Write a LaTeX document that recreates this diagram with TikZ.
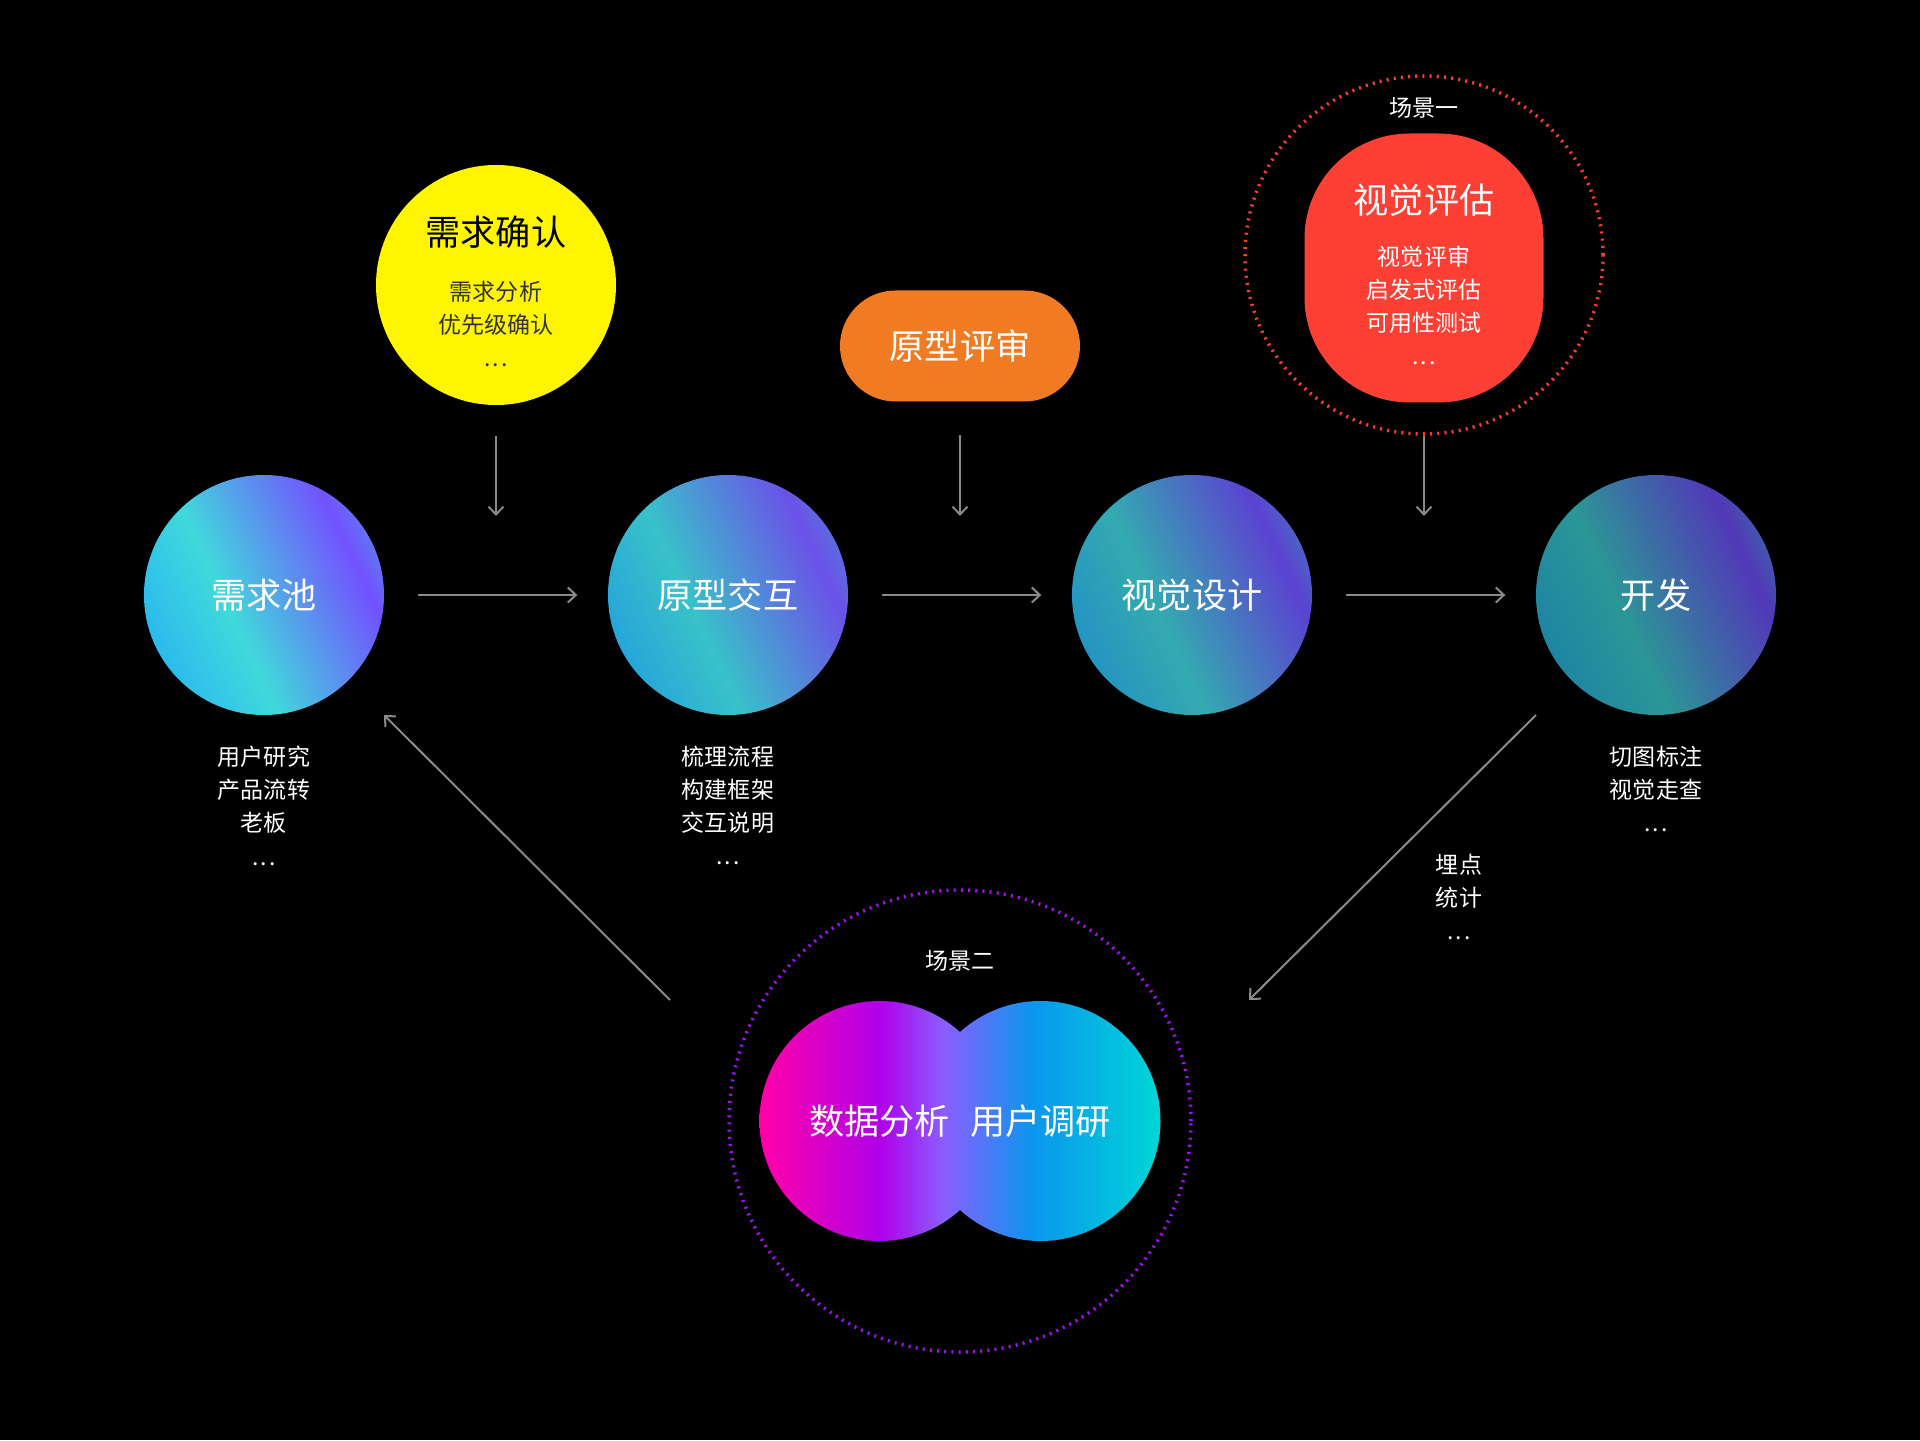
\documentclass[tikz,border=0pt]{standalone}
\usepackage{fontspec}
\setmainfont{Noto Sans CJK SC}
\usetikzlibrary{arrows.meta}
\definecolor{lineGray}{HTML}{8A8A8A}
\definecolor{confirmYellow}{HTML}{FFF500}
\definecolor{reviewOrange}{HTML}{F07B22}
\definecolor{evalRed}{HTML}{FE4034}
\definecolor{sceneRed}{HTML}{FF3B30}
\definecolor{scenePurple}{HTML}{A010F0}
\newcommand{\moredots}{.\kern0.02cm.\kern0.02cm.}
%% Shadings
\pgfdeclarehorizontalshading{poolshade}{100bp}{rgb(0bp)=(0.17,0.73,0.93); rgb(25bp)=(0.17,0.73,0.93); rgb(42bp)=(0.25,0.85,0.86); rgb(70bp)=(0.45,0.32,1); rgb(75bp)=(0.38,0.45,0.96); rgb(100bp)=(0.38,0.45,0.96)}
\pgfdeclarehorizontalshading{protoshade}{100bp}{rgb(0bp)=(0.15,0.65,0.85); rgb(25bp)=(0.15,0.65,0.85); rgb(42bp)=(0.22,0.76,0.79); rgb(70bp)=(0.42,0.32,0.91); rgb(75bp)=(0.36,0.42,0.88); rgb(100bp)=(0.36,0.42,0.88)}
\pgfdeclarehorizontalshading{visualshade}{100bp}{rgb(0bp)=(0.14,0.58,0.76); rgb(25bp)=(0.14,0.58,0.76); rgb(42bp)=(0.20,0.67,0.69); rgb(70bp)=(0.36,0.26,0.82); rgb(75bp)=(0.30,0.38,0.78); rgb(100bp)=(0.30,0.38,0.78)}
\pgfdeclarehorizontalshading{devshade}{100bp}{rgb(0bp)=(0.12,0.52,0.64); rgb(25bp)=(0.12,0.52,0.64); rgb(42bp)=(0.17,0.59,0.59); rgb(70bp)=(0.32,0.22,0.72); rgb(75bp)=(0.26,0.34,0.68); rgb(100bp)=(0.26,0.34,0.68)}
\pgfdeclarehorizontalshading{twinshade}{100bp}{rgb(0bp)=(1,0,0.66); rgb(25bp)=(1,0,0.66); rgb(40bp)=(0.69,0,0.91); rgb(48bp)=(0.54,0.37,1); rgb(59bp)=(0.04,0.59,0.93); rgb(75bp)=(0,0.84,0.84); rgb(100bp)=(0,0.84,0.84)}
\begin{document}
\begin{tikzpicture}[
    stage/.style={circle,minimum size=2.4cm,inner sep=0,shade,shading angle=25,text=white,font=\fontsize{10}{12}\selectfont},
    bubble/.style={circle,minimum size=2.4cm,inner sep=0},
    headline/.style={inner sep=0,font=\fontsize{10}{12}\selectfont},
    note/.style={inner sep=0,align=center,anchor=north,text=white,font=\fontsize{6.55}{9.4}\selectfont},
    ring/.style={circle,inner sep=0,line width=0.035cm,dash pattern=on 0.02cm off 0.052cm},
    flow/.style={draw=lineGray,line width=0.02cm,-{Straight Barb[length=0.08cm,width=0.15cm]}}]
        \useasboundingbox (-9.6,-7.2) rectangle (9.6,7.2);
        \fill[black] (-9.6,-7.2) rectangle (9.6,7.2);
        %% Stages
        \node[stage,shading=poolshade] (pool) at (-6.96,1.25) {需求池};
        \node[stage,shading=protoshade] (proto) at (-2.32,1.25) {原型交互};
        \node[stage,shading=visualshade] (visual) at (2.32,1.25) {视觉设计};
        \node[stage,shading=devshade] (dev) at (6.96,1.25) {开发};
        \node[note] (poolN) at ([yshift=-0.3cm]pool.south) {用户研究\\产品流转\\老板\\\moredots};
        \node[note] (protoN) at ([yshift=-0.3cm]proto.south) {梳理流程\\构建框架\\交互说明\\\moredots};
        \node[note] (devN) at ([yshift=-0.3cm]dev.south) {切图标注\\视觉走查\\\moredots};
        %% Checks
        \node[bubble,fill=confirmYellow] (confirm) at (-4.64,4.35) {};
        \node[headline,text=black] (confirmT) at ([yshift=0.53cm]confirm.center) {需求确认};
        \node[note,text=black!80] (confirmN) at ([yshift=0.05cm]confirm.center) {需求分析\\优先级确认\\\moredots};
        \node[rectangle,rounded corners=0.555cm,minimum width=2.4cm,minimum height=1.11cm,fill=reviewOrange,text=white,font=\fontsize{10}{12}\selectfont] (review) at (0,3.74) {原型评审};
        \node[ring,draw=sceneRed,minimum size=3.58cm] (sceneA) at (4.64,4.65) {};
        \node[rectangle,rounded corners=1.05cm,minimum width=2.39cm,minimum height=2.69cm,fill=evalRed] (eval) at (4.64,4.52) {};
        \node[headline,text=white] (evalT) at ([yshift=0.68cm]eval.center) {视觉评估};
        \node[note] (evalN) at ([yshift=0.23cm]eval.center) {视觉评审\\启发式评估\\可用性测试\\\moredots};
        \node[note,anchor=center] (sceneAT) at (4.64,6.12) {场景一};
        %% Feedback
        \node[ring,draw=scenePurple,minimum size=4.62cm] (sceneB) at (0,-4.01) {};
        \node[note,anchor=center] (sceneBT) at (0,-2.41) {场景二};
        \coordinate (dataC) at (-0.805,-4.01);
        \coordinate (userC) at (0.805,-4.01);
        \shade[shading=twinshade] (dataC) circle (1.2) (userC) circle (1.2);
        \node[headline,text=white] (data) at (dataC) {数据分析};
        \node[headline,text=white] (user) at (userC) {用户调研};
        \node[note] (trackN) at (4.99,-1.33) {埋点\\统计\\\moredots};
        %% Lines
        \coordinate (gapA) at (-4.64,2.04);
        \coordinate (gapB) at (0,2.04);
        \coordinate (gapC) at (4.64,2.04);
        \draw[flow] ([yshift=-0.3cm]confirm.south) -- (gapA);
        \draw[flow] ([yshift=-0.33cm]review.south) -- (gapB);
        \draw[flow] (sceneA.south) -- (gapC);
        \draw[flow,shorten <=0.33cm,shorten >=0.3cm] (pool) -- (proto);
        \draw[flow,shorten <=0.33cm,shorten >=0.3cm] (proto) -- (visual);
        \draw[flow,shorten <=0.33cm,shorten >=0.3cm] (visual) -- (dev);
        \coordinate (backTail) at (-2.90,-2.80);
        \coordinate (backTip) at ([shift={(1.2,-1.2)}]pool.center);
        \coordinate (trackTail) at ([shift={(-1.2,-1.2)}]dev.center);
        \coordinate (trackTip) at (2.89,-2.80);
        \draw[flow] (backTail) -- (backTip);
        \draw[flow] (trackTail) -- (trackTip);
    \end{tikzpicture}
\end{document}
